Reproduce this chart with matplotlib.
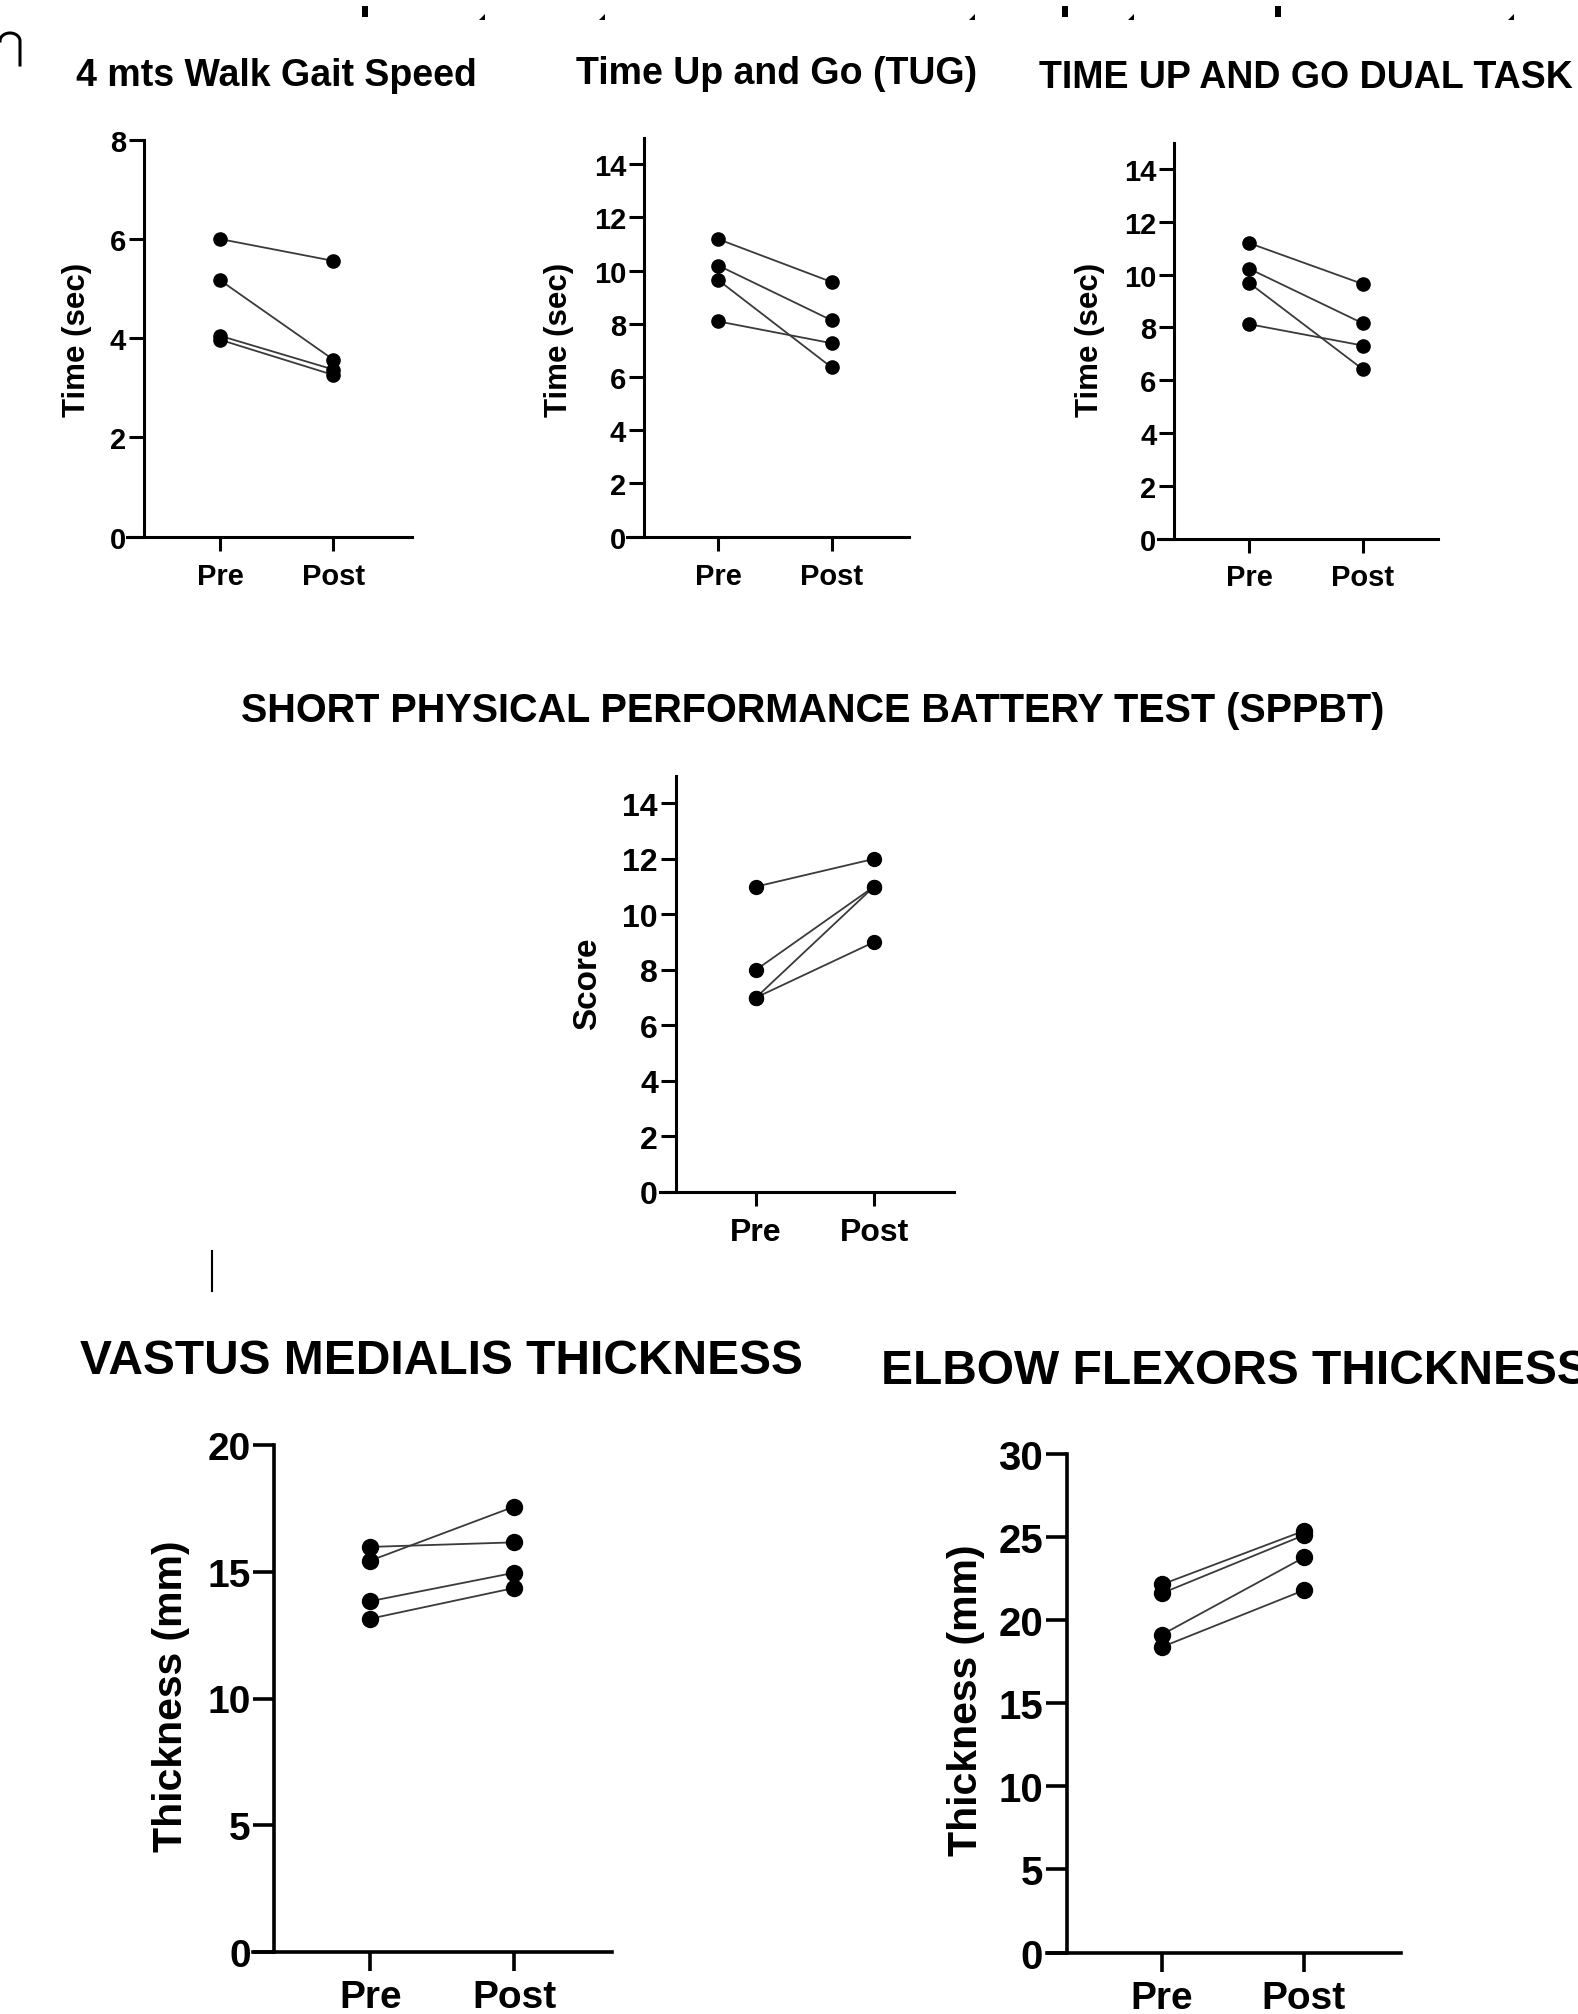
import matplotlib
matplotlib.use("Agg")
import matplotlib.pyplot as plt
from matplotlib.patches import Rectangle, Polygon
from matplotlib.lines import Line2D
import numpy as np

plt.rcParams['font.family'] = ['Liberation Sans', 'DejaVu Sans']
plt.rcParams['font.weight'] = 'bold'

W, H = 1578, 2015
CATEGORIES = ["Pre", "Post"]

# values (one entry per subject)
GAIT_PRE = [6.0, 5.17, 4.05, 3.97]
GAIT_POST = [5.56, 3.57, 3.37, 3.26]

TUG_PRE = [11.18, 10.19, 9.64, 8.09]
TUG_POST = [9.57, 8.13, 6.36, 7.27]

DUAL_PRE = [11.19, 10.22, 9.68, 8.12]
DUAL_POST = [9.64, 8.15, 6.41, 7.31]

SPPB_PRE = [11, 8, 7, 7]
SPPB_POST = [12, 11, 11, 9]

VM_PRE = [15.98, 15.44, 13.84, 13.15]
VM_POST = [16.16, 17.57, 14.96, 14.36]

EF_PRE = [22.13, 21.6, 19.11, 18.37]
EF_POST = [25.35, 25.09, 23.75, 21.78]


def fx(x):
    return x / W


def fy(y):
    return 1 - y / H


def make_axes(fig, left, right, ybot, ytop, pre_px, post_px, yaxis_px):
    """axes box in pixel coords, x data so that Pre=0 and Post=1"""
    ax = fig.add_axes([fx(left), fy(ybot), (right - left) / W, (ybot - ytop) / H])
    step = post_px - pre_px
    ax.set_xlim((left - pre_px) / step, (right - pre_px) / step)
    ax.spines['left'].set_position(('data', (yaxis_px - pre_px) / step))
    return ax


def draw_panel(ax, pre, post, ymax, yticks, ysize, xsize, lw_axis, msize, tlen, xpad):
    for a, b in zip(pre, post):
        ax.plot([0, 1], [a, b], color="#3a3a3a", lw=1.3, zorder=2)
    ax.plot([0] * len(pre), pre, 'o', color="black", ms=msize, zorder=3)
    ax.plot([1] * len(post), post, 'o', color="black", ms=msize, zorder=3)
    ax.set_ylim(0, ymax)
    ax.set_yticks(yticks)
    ax.set_xticks([0, 1])
    ax.set_xticklabels(CATEGORIES)
    for side in ['top', 'right']:
        ax.spines[side].set_visible(False)
    for side in ['left', 'bottom']:
        ax.spines[side].set_linewidth(lw_axis)
    ax.tick_params(axis='y', length=tlen, width=lw_axis, labelsize=ysize, pad=2)
    ax.tick_params(axis='x', length=tlen * 0.9, width=lw_axis, labelsize=xsize, pad=xpad)
    for lab in ax.get_xticklabels() + ax.get_yticklabels():
        lab.set_fontweight('bold')
    ax.patch.set_alpha(0)


fig = plt.figure(figsize=(W / 100, H / 100), dpi=100)

# 4 mts walk gait speed
ax1 = make_axes(fig, 126.7, 411.7, 537.7, 140.8, 220, 333.3, 144)
draw_panel(ax1, GAIT_PRE, GAIT_POST, 8, [0, 2, 4, 6, 8], 21, 21, 2.2, 9.5, 11, 8)
fig.text(fx(276), fy(76), "4 mts Walk Gait Speed", ha='center', va='center', fontsize=27, fontweight='bold')
fig.text(fx(77), fy(340), "Time (sec)", rotation=90, ha='center', va='center', fontsize=22.5, fontweight='bold')

# TUG
ax2 = make_axes(fig, 626.7, 909.3, 537.7, 138.5, 718.3, 831.7, 644.3)
draw_panel(ax2, TUG_PRE, TUG_POST, 15, [0, 2, 4, 6, 8, 10, 12, 14], 21, 21, 2.2, 9.5, 11, 8)
fig.text(fx(777), fy(74), "Time Up and Go (TUG)", ha='center', va='center', fontsize=27, fontweight='bold')
fig.text(fx(559), fy(340), "Time (sec)", rotation=90, ha='center', va='center', fontsize=22.5, fontweight='bold')

# TUG dual task
ax3 = make_axes(fig, 1157.6, 1438.4, 539.6, 143.5, 1249.2, 1362.9, 1174.4)
draw_panel(ax3, DUAL_PRE, DUAL_POST, 15, [0, 2, 4, 6, 8, 10, 12, 14], 21, 21, 2.2, 9.5, 11, 8)
fig.text(fx(1306), fy(78), "TIME UP AND GO DUAL TASK", ha='center', va='center', fontsize=27, fontweight='bold')
fig.text(fx(1090), fy(340), "Time (sec)", rotation=90, ha='center', va='center', fontsize=22.5, fontweight='bold')

# SPPB
ax4 = make_axes(fig, 660, 954.3, 1192.7, 776.7, 756, 874, 676)
draw_panel(ax4, SPPB_PRE, SPPB_POST, 15, [0, 2, 4, 6, 8, 10, 12, 14], 23, 23, 2.2, 10, 11, 8)
fig.text(fx(813), fy(711), "SHORT PHYSICAL PERFORMANCE BATTERY TEST (SPPBT)", ha='center', va='center',
         fontsize=28.5, fontweight='bold')
fig.text(fx(588), fy(984), "Score", rotation=90, ha='center', va='center', fontsize=24, fontweight='bold')

# vastus medialis
ax5 = make_axes(fig, 252.9, 611.8, 1953, 1446, 370.4, 514.3, 274.3)
draw_panel(ax5, VM_PRE, VM_POST, 20, [0, 5, 10, 15, 20], 28, 28, 2.6, 11.5, 15, 6)
fig.text(fx(441), fy(1362), "VASTUS MEDIALIS THICKNESS", ha='center', va='center', fontsize=34.5, fontweight='bold')
fig.text(fx(171), fy(1696), "Thickness (mm)", rotation=90, ha='center', va='center', fontsize=29.5, fontweight='bold')

# elbow flexors (title runs off the right edge, as in the source)
ax6 = make_axes(fig, 1047.2, 1401.3, 1953.6, 1454.5, 1161.9, 1303.9, 1066.7)
draw_panel(ax6, EF_PRE, EF_POST, 30, [0, 5, 10, 15, 20, 25, 30], 29, 28, 2.6, 11.5, 15, 6)
fig.text(fx(881), fy(1372), "ELBOW FLEXORS THICKNESS", ha='left', va='center', fontsize=34.5, fontweight='bold')
fig.text(fx(966), fy(1700), "Thickness (mm)", rotation=90, ha='center', va='center', fontsize=29.5, fontweight='bold')

# scan marks around the figure edges
for x in [365, 1065, 1278]:
    fig.patches.append(Rectangle((fx(x - 3), fy(18)), 6 / W, 11 / H, transform=fig.transFigure,
                                 color='black', lw=0))
for x in [482, 602, 972, 1131, 1511]:
    fig.patches.append(Polygon([(fx(x - 3), fy(21)), (fx(x + 3), fy(21)), (fx(x + 3), fy(15))],
                               closed=True, transform=fig.transFigure, color='black', lw=0))
t = np.linspace(np.pi, 0, 30)
arc_x = list(10 + 10 * np.cos(t)) + [20]
arc_y = list(42 - 8 * np.sin(t)) + [66]
fig.lines.append(Line2D([fx(v) for v in arc_x], [fy(v) for v in arc_y], transform=fig.transFigure,
                        color='black', lw=2.2))
fig.lines.append(Line2D([fx(212), fx(212)], [fy(1252), fy(1292)], transform=fig.transFigure,
                        color='black', lw=1.5))

fig.savefig("out.png", dpi=100, facecolor='white')
